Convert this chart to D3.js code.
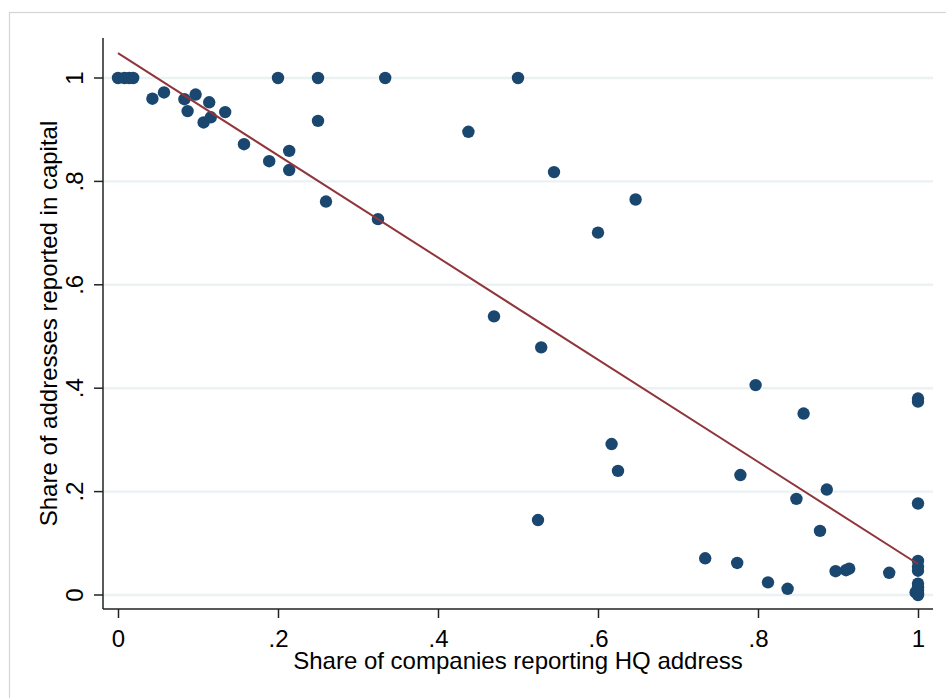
<!DOCTYPE html>
<html>
<head>
<meta charset="utf-8">
<script src="https://cdn.jsdelivr.net/npm/d3@7"></script>
<style>
  body { margin: 0; background: #fff; }
  text { font-family: "Liberation Sans", Arial, sans-serif; fill: #000; }
</style>
</head>
<body>
<div id="chartholder"></div>
<script>
// share of companies reporting HQ address (x) vs share of addresses in capital (y)
var hqShare = [0, 0.008, 0.014, 0.019, 0.043, 0.0575, 0.083, 0.087, 0.097, 0.107, 0.114, 0.116, 0.134,
  0.1575, 0.189, 0.2, 0.214, 0.214, 0.25, 0.25, 0.26, 0.325, 0.334, 0.438, 0.47, 0.5, 0.525, 0.529,
  0.545, 0.6, 0.617, 0.625, 0.647, 0.734, 0.774, 0.778, 0.797, 0.8125, 0.837, 0.848, 0.857, 0.8775,
  0.886, 0.897, 0.91, 0.914, 0.964, 1, 1, 1, 1, 1, 1, 1, 1, 1, 0.997, 1, 1];
var capitalShare = [1, 1, 1, 1, 0.96, 0.972, 0.959, 0.936, 0.968, 0.914, 0.953, 0.924, 0.934,
  0.872, 0.839, 1, 0.859, 0.822, 1, 0.917, 0.761, 0.727, 1, 0.896, 0.539, 1, 0.145, 0.479,
  0.818, 0.701, 0.292, 0.24, 0.765, 0.071, 0.062, 0.232, 0.406, 0.0245, 0.012, 0.186, 0.351, 0.124,
  0.204, 0.046, 0.048, 0.051, 0.043, 0.38, 0.374, 0.177, 0.066, 0.055, 0.047, 0.022, 0.015, 0.008, 0.005, 0.002, 0];

// linear fit: intercept, slope
var fitLine = [1.048, -0.988];

var xTicks = [0, 0.2, 0.4, 0.6, 0.8, 1];
var yTicks = [0, 0.2, 0.4, 0.6, 0.8, 1];
var xTitle = "Share of companies reporting HQ address";
var yTitle = "Share of addresses reported in capital";

var fmt = function(d) { return d === 0 || d === 1 ? String(d) : String(d).replace(/^0/, ""); };

var svg = d3.select("#chartholder")
  .append("svg")
  .attr("width", 946)
  .attr("height", 698);

// outer graph border
svg.append("rect")
  .attr("x", 9.5).attr("y", 12.5)
  .attr("width", 1000).attr("height", 1000)
  .attr("fill", "none")
  .attr("stroke", "#d4d4d4")
  .attr("stroke-width", 1.2);

var pLeft = 103, pRight = 933, pTop = 38, pBottom = 609;

var x = d3.scaleLinear().domain([0, 1]).range([118, 918]);
var y = d3.scaleLinear().domain([0, 1]).range([595, 78]);

// gridlines
svg.append("g")
  .selectAll("line")
  .data(yTicks)
  .enter().append("line")
  .attr("x1", pLeft).attr("x2", pRight)
  .attr("y1", function(d) { return y(d); })
  .attr("y2", function(d) { return y(d); })
  .attr("stroke", "#eaf2f3")
  .attr("stroke-width", 2.4);

// y axis
var yAxis = svg.append("g")
  .attr("transform", "translate(" + pLeft + ",0)")
  .call(d3.axisLeft(y).tickValues(yTicks).tickFormat(fmt).tickSize(9));
yAxis.select(".domain").attr("d", "M0," + pTop + "V" + pBottom);
yAxis.selectAll(".tick").attr("transform", null);
yAxis.selectAll(".tick line")
  .attr("y1", function(d) { return y(d); })
  .attr("y2", function(d) { return y(d); });
yAxis.selectAll("text")
  .attr("font-size", 24)
  .attr("font-family", "Liberation Sans, Arial, sans-serif")
  .attr("x", -20)
  .attr("y", function(d) { return y(d); })
  .attr("dy", 0)
  .attr("text-anchor", "middle")
  .attr("transform", function(d) { return "rotate(-90," + (-20) + "," + y(d) + ")"; });

// x axis
var xAxis = svg.append("g")
  .attr("transform", "translate(0," + pBottom + ")")
  .call(d3.axisBottom(x).tickValues(xTicks).tickFormat(fmt).tickSize(9).tickPadding(12));
xAxis.select(".domain").attr("d", "M" + pLeft + ",0H" + pRight);
xAxis.selectAll("text")
  .attr("font-size", 24)
  .attr("font-family", "Liberation Sans, Arial, sans-serif")
  .attr("dy", "0.71em");

svg.selectAll(".domain, .tick line")
  .attr("stroke", "#222")
  .attr("stroke-width", 1.5);

// axis titles
svg.append("text")
  .attr("x", (pLeft + pRight) / 2)
  .attr("y", 669)
  .attr("text-anchor", "middle")
  .attr("font-size", 24)
  .text(xTitle);

svg.append("text")
  .attr("transform", "translate(57," + (pTop + pBottom) / 2 + ") rotate(-90)")
  .attr("text-anchor", "middle")
  .attr("font-size", 24)
  .text(yTitle);

// points
var points = hqShare.map(function(d, i) { return { x: d, y: capitalShare[i] }; });
svg.append("g")
  .selectAll("circle")
  .data(points)
  .enter().append("circle")
  .attr("cx", function(d) { return x(d.x); })
  .attr("cy", function(d) { return y(d.y); })
  .attr("r", 6.2)
  .attr("fill", "#1a476f");

// fitted line
var fitX = d3.extent(hqShare);
svg.append("line")
  .attr("x1", x(fitX[0]))
  .attr("x2", x(fitX[1]))
  .attr("y1", y(fitLine[0] + fitLine[1] * fitX[0]))
  .attr("y2", y(fitLine[0] + fitLine[1] * fitX[1]))
  .attr("stroke", "#90353b")
  .attr("stroke-width", 2);
</script>
</body>
</html>
